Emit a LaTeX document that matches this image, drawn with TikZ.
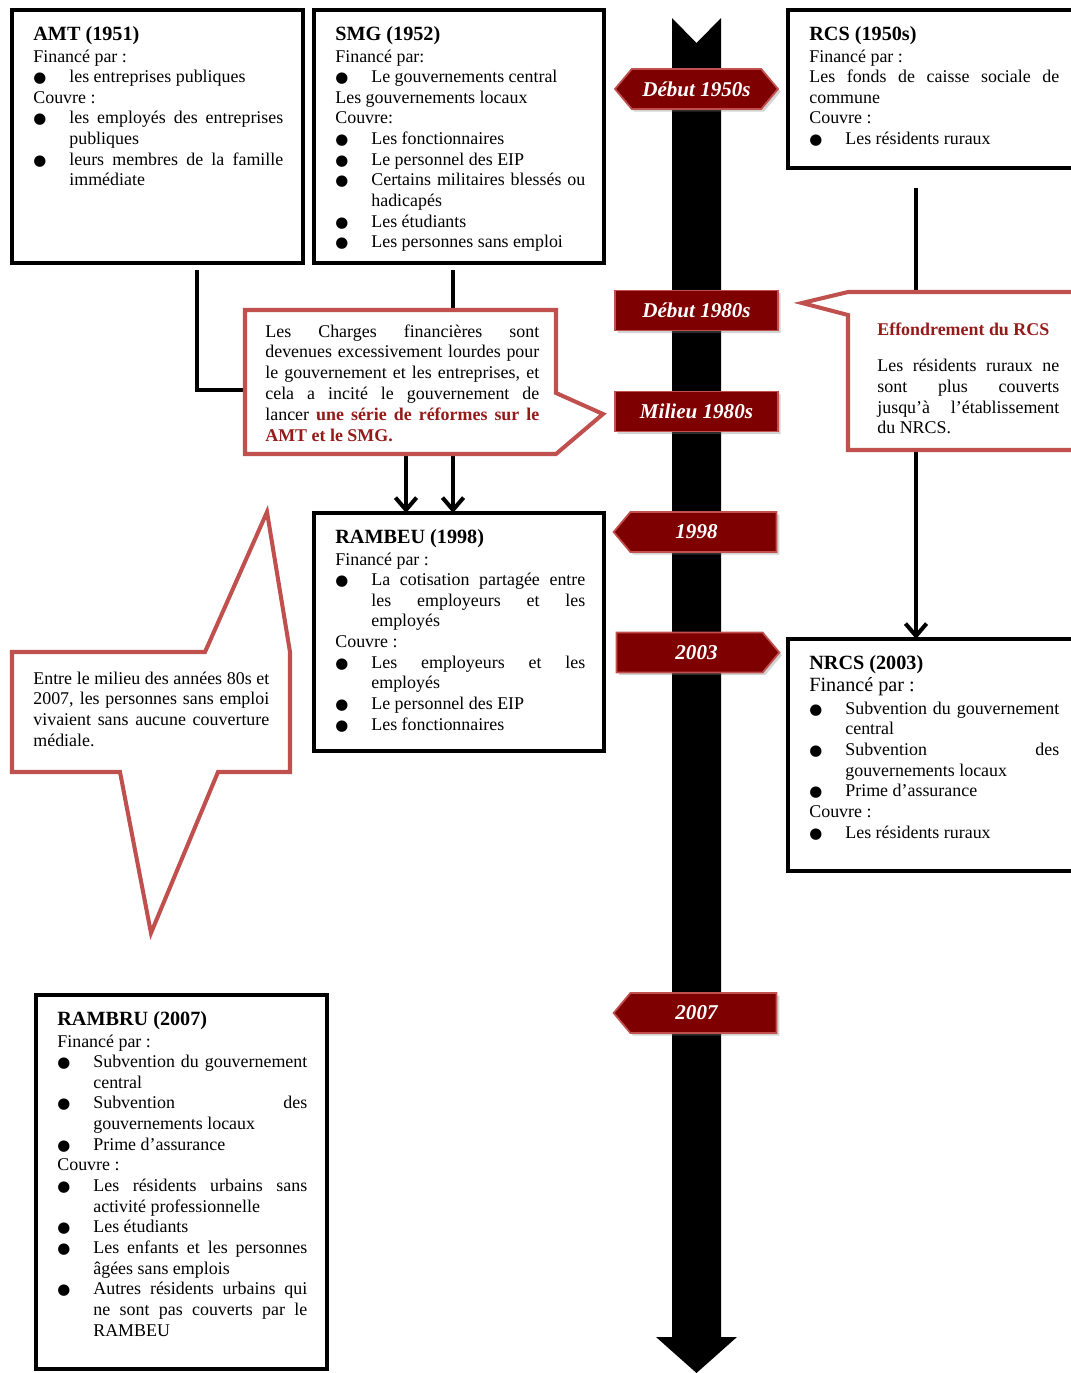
\documentclass[tikz,border=0pt]{standalone}
\usepackage{fontspec}
\setmainfont{Liberation Serif}
\newfontfamily\dejavu{DejaVu Sans}
\usetikzlibrary{arrows.meta,shapes.symbols,shadows}

\newlength\unitpx
\setlength\unitpx{0.02cm}
\definecolor{tagred}{HTML}{7F0000}
\definecolor{tagedge}{HTML}{C0504D}
\definecolor{calloutred}{HTML}{C0504D}
\definecolor{textred}{HTML}{951B1B}

% bullet items, titles and text blocks
\newcommand{\bul}{{\dejavu\fontsize{8.5}{8.5}\selectfont ●}}
\newcommand{\itm}[1]{\par\noindent\hangindent=36\unitpx\hangafter=1%
  \makebox[36\unitpx][l]{\bul}#1\par}
\newcommand{\ttl}[1]{{\fontsize{11.5}{11.75}\selectfont\bfseries #1\par}\vspace{0.8pt}}
\newcommand{\boxtext}[2]{\parbox[t]{#1\unitpx}{\fontsize{10.2}{11.75}\selectfont
  \tolerance=10000\hbadness=10000\hyphenpenalty=10000\parindent=0pt #2}}

\tikzset{
  box/.style={draw, line width=2.5pt, anchor=north west, inner sep=0,
    outer sep=0, minimum width=291\unitpx},
  txt/.style={anchor=base west, inner sep=0},
  conn/.style={line width=2.3pt},
  arr/.style={line width=2.3pt, -{Straight Barb[length=7pt,width=12pt]}},
  callout/.style={draw=calloutred, fill=white, line width=2.3pt},
  tag/.style={shape=signal, signal pointer angle=100, fill=tagred, draw=tagedge,
    line width=1pt, minimum width=163\unitpx, minimum height=40\unitpx,
    inner sep=0, text=white, font=\fontsize{12}{12}\selectfont\bfseries\itshape,
    drop shadow={opacity=0.35, shadow xshift=1.5pt, shadow yshift=-1.5pt}}
}

\begin{document}
\begin{tikzpicture}[x=0.02cm, y=-0.02cm]
  \useasboundingbox (0,0) rectangle (1071,1373);

  % timeline
  \fill (672,18) -- (696.5,43) -- (721,18) -- (721,1337) -- (737,1337)
    -- (696.5,1373) -- (656,1337) -- (672,1337) -- cycle;

  % boxes
  \node[box, minimum height=253\unitpx] (amt) at (12,10) {};
  \node[box, minimum height=253\unitpx, minimum width=290\unitpx] (smg) at (314,10) {};
  \node[box, minimum height=158\unitpx, minimum width=300\unitpx] (rcs) at (788,10) {};
  \node[box, minimum height=238\unitpx, minimum width=290\unitpx] (rambeu) at (314,513) {};
  \node[box, minimum height=232\unitpx, minimum width=300\unitpx] (nrcs) at (788,639) {};
  \node[box, minimum height=374\unitpx] (rambru) at (36,995) {};

  \node[txt] (amt-t) at (33,40) {\boxtext{250}{%
    \ttl{AMT (1951)}
    Financé par :\par
    \itm{les entreprises publiques}
    Couvre :\par
    \itm{les employés des entreprises\linebreak publiques}
    \itm{leurs membres de la famille\linebreak immédiate}}};
  \node[txt] (smg-t) at (335,40) {\boxtext{250}{%
    \ttl{SMG (1952)}
    Financé par:\par
    \itm{Le gouvernements central}
    Les gouvernements locaux\par
    Couvre:\par
    \itm{Les fonctionnaires}
    \itm{Le personnel des EIP}
    \itm{Certains militaires blessés ou\linebreak hadicapés}
    \itm{Les étudiants}
    \itm{Les personnes sans emploi}}};
  \node[txt] (rcs-t) at (809,40) {\boxtext{250}{%
    \ttl{RCS (1950s)}
    Financé par :\par
    Les fonds de caisse sociale de\linebreak commune\par
    Couvre :\par
    \itm{Les résidents ruraux}}};
  \node[txt] (rambeu-t) at (335,543) {\boxtext{250}{%
    \ttl{RAMBEU (1998)}
    Financé par :\par
    \itm{La cotisation partagée entre\linebreak les employeurs et les\linebreak employés}
    Couvre :\par
    \itm{Les employeurs et les\linebreak employés}
    \itm{Le personnel des EIP}
    \itm{Les fonctionnaires}}};
  \node[txt] (nrcs-t) at (809,669) {\boxtext{250}{%
    \ttl{NRCS (2003)}
    {\fontsize{11.5}{11.75}\selectfont Financé par :\par}\vspace{1.5pt}
    \itm{Subvention du gouvernement\linebreak central}
    \itm{Subvention des\linebreak gouvernements locaux}
    \itm{Prime d’assurance}
    Couvre :\par
    \itm{Les résidents ruraux}}};
  \node[txt] (rambru-t) at (57,1025) {\boxtext{250}{%
    \ttl{RAMBRU (2007)}
    Financé par :\par
    \itm{Subvention du gouvernement\linebreak central}
    \itm{Subvention des\linebreak gouvernements locaux}
    \itm{Prime d’assurance}
    Couvre :\par
    \itm{Les résidents urbains sans\linebreak activité professionnelle}
    \itm{Les étudiants}
    \itm{Les enfants et les personnes\linebreak âgées sans emplois}
    \itm{Autres résidents urbains qui\linebreak ne sont pas couverts par le\linebreak RAMBEU}}};

  % connectors
  \coordinate (c1-left) at (245,390);
  \coordinate (c1-top) at (453,310);
  \coordinate (c1-out1) at (406,454);
  \coordinate (c1-out2) at (453,454);
  \coordinate (c2-top) at (916,292);
  \coordinate (c2-bot) at (916,450);
  \draw[conn] ([shift={(39.5,7)}]amt.south) |- (c1-left);
  \draw[conn] ([shift={(0,7)}]c1-top |- smg.south) -- (c1-top);
  \draw[conn] ([shift={(0,20)}]c2-top |- rcs.south) -- (c2-top);
  \draw[arr] (c1-out1) -- (c1-out1 |- rambeu.north);
  \draw[arr] (c1-out2) -- (c1-out2 |- rambeu.north);
  \draw[arr] (c2-bot) -- (c2-bot |- nrcs.north);

  % callouts
  \draw[callout] (245,310) -- (556,310) -- (556,393) -- (603,414) -- (556,454)
    -- (245,454) -- cycle;
  \draw[callout] (1090,292) -- (848,292) -- (802,303) -- (848,315) -- (848,450)
    -- (1090,450);
  \draw[callout] (12,652) -- (205,652) -- (267,512) -- (290,652) -- (290,772)
    -- (218,772) -- (151,933) -- (120,772) -- (12,772) -- cycle;

  \node[txt] (charges) at (265,337) {\boxtext{274}{\baselineskip=11.85pt
    Les Charges financières sont\linebreak devenues excessivement lourdes pour\linebreak
    le gouvernement et les entreprises, et\linebreak cela a incité le gouvernement de\linebreak
    lancer \textcolor{textred}{\bfseries une série de réformes sur le\linebreak AMT et le SMG.}}};
  \node[txt] (collapse) at (877,335) {\boxtext{182}{%
    \noindent\textcolor{textred}{\bfseries Effondrement du RCS}\par\vspace{9.3pt}
    Les résidents ruraux ne\linebreak sont plus couverts\linebreak
    jusqu’à l’établissement\linebreak du NRCS.}};
  \node[txt] (nocover) at (33,684) {\boxtext{236}{\baselineskip=11.85pt
    Entre le milieu des années 80s et\linebreak 2007, les personnes sans emploi\linebreak
    vivaient sans aucune couverture\linebreak médiale.}};

  % dates on the timeline
  \foreach \n/\x/\y/\dir/\lab in {1/696.5/89/{east and west}/{Début 1950s},
      2/696.5/310.5/nowhere/{Début 1980s}, 3/696.5/411.5/nowhere/{Milieu 1980s},
      4/703.5/532/west/{\hspace*{-14\unitpx}1998},
      5/689.5/652.5/east/{2003\hspace*{-14\unitpx}},
      6/703.5/1013/west/{\hspace*{-14\unitpx}2007}} {
    \node[tag, signal to=\dir] (tag\n) at (\x,\y) {\lab};
  }
\end{tikzpicture}
\end{document}
